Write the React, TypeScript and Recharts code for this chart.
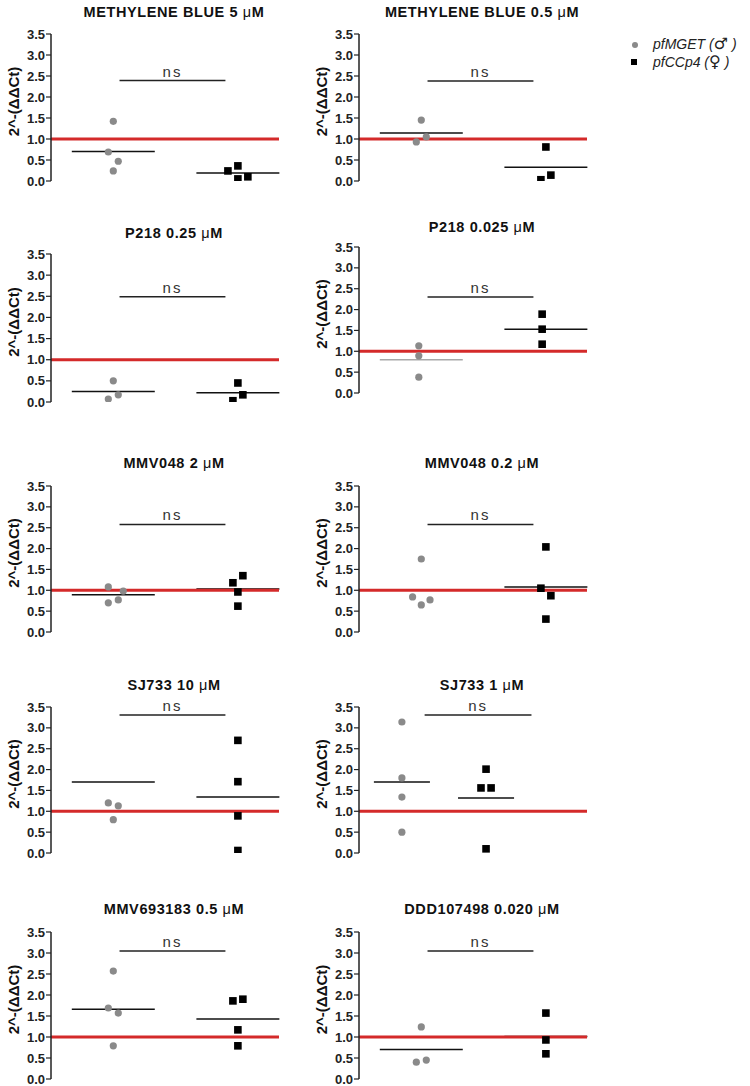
import React from 'react';
import { ScatterChart, Scatter, XAxis, YAxis, ReferenceLine, Label } from 'recharts';

const titles = [
  'METHYLENE BLUE 5',
  'METHYLENE BLUE 0.5',
  'P218 0.25',
  'P218 0.025',
  'MMV048 2',
  'MMV048 0.2',
  'SJ733 10',
  'SJ733 1',
  'MMV693183 0.5',
  'DDD107498 0.020',
];
const unitLabel = 'M';
const yTicks = [0, 0.5, 1, 1.5, 2, 2.5, 3, 3.5];
const yLabel = '2^-(ΔΔCt)';
const nsText = 'ns';
const baseline = 1;

const maleValues = [
  [1.42, 0.69, 0.47, 0.24],
  [1.45, 0.93, 1.05],
  [0.5, 0.07, 0.17],
  [1.13, 0.89, 0.38],
  [1.08, 0.98, 0.77, 0.7],
  [1.75, 0.84, 0.65, 0.77],
  [1.2, 1.13, 0.8],
  [3.14, 1.8, 1.34, 0.5],
  [2.57, 1.69, 1.57, 0.79],
  [1.24, 0.4, 0.45],
];
const maleX = [
  [1.0, 0.96, 1.04, 1.0],
  [1.0, 0.96, 1.04],
  [1.0, 0.96, 1.04],
  [0.98, 0.98, 0.98],
  [0.96, 1.08, 1.04, 0.96],
  [1.0, 0.93, 1.0, 1.07],
  [0.96, 1.04, 1.0],
  [1.0, 1.0, 1.0, 1.0],
  [1.0, 0.96, 1.04, 1.0],
  [1.0, 0.96, 1.04],
];
const femaleValues = [
  [0.24, 0.36, 0.05, 0.1],
  [0.81, 0.03, 0.14],
  [0.45, 0.03, 0.17],
  [1.89, 1.53, 1.17],
  [1.18, 1.35, 0.96, 0.62],
  [2.04, 1.05, 0.87, 0.31],
  [2.7, 1.71, 0.89, 0.06],
  [2.01, 1.56, 1.56, 0.1],
  [1.86, 1.9, 1.17, 0.79],
  [1.57, 0.93, 0.6],
];
const femaleX = [
  [1.92, 2.0, 2.0, 2.08],
  [2.0, 1.96, 2.04],
  [2.0, 1.96, 2.04],
  [1.97, 1.97, 1.97],
  [1.96, 2.04, 2.0, 2.0],
  [2.0, 1.96, 2.04, 2.0],
  [2.0, 2.0, 2.0, 2.0],
  [2.0, 1.94, 2.06, 2.0],
  [1.96, 2.04, 2.0, 2.0],
  [2.0, 2.0, 2.0],
];
const maleMeans = [0.7, 1.14, 0.25, 0.8, 0.89, 1.0, 1.7, 1.7, 1.66, 0.7];
const femaleMeans = [0.19, 0.33, 0.22, 1.53, 1.03, 1.08, 1.34, 1.32, 1.43, 1.01];
const nsLevels = [2.39, 2.38, 2.49, 2.3, 2.58, 2.58, 3.31, 3.31, 3.05, 3.05];

// layout (page pixel geometry) per panel
const layout = [
  { ax: 51, top: 34, bottom: 181, titleY: 12 },
  { ax: 359, top: 34, bottom: 181, titleY: 12 },
  { ax: 51, top: 254, bottom: 402, titleY: 233 },
  { ax: 359, top: 247, bottom: 393, titleY: 227 },
  { ax: 51, top: 486, bottom: 632, titleY: 463 },
  { ax: 359, top: 486, bottom: 632, titleY: 463 },
  { ax: 51, top: 707, bottom: 853, titleY: 685 },
  { ax: 359, top: 707, bottom: 853, titleY: 685 },
  { ax: 51, top: 932, bottom: 1079, titleY: 909 },
  { ax: 359, top: 932, bottom: 1079, titleY: 909 },
];
const defaultDomain: [number, number] = [0.5, 2.33];
const wideDomain: [number, number] = [0.49, 3.2];
const nsSpanDefault: [number, number] = [1.05, 1.9];
const nsSpanWide: [number, number] = [1.27, 2.54];
const meanHalf = 0.333;

const FONT = '"Liberation Sans", Arial, Helvetica, sans-serif';
const PLOT_W = 228;
const AXIS_W = 51;
const TOP_PAD = 34;

const CircleShape = (props: any) => (
  <circle cx={props.cx} cy={props.cy} r={3.6} fill="#8a8a8a" />
);
const SquareShape = (props: any) => (
  <rect x={props.cx - 3.8} y={props.cy - 3.8} width={7.6} height={7.6} fill="#000" />
);

function Panel({ i }: { i: number }) {
  const L = layout[i];
  const ph = L.bottom - L.top;
  const W = AXIS_W + PLOT_W + 11;
  const H = TOP_PAD + ph + 10;
  const domain = i === 7 ? wideDomain : defaultDomain;
  const nsSpan = i === 7 ? nsSpanWide : nsSpanDefault;
  const male = maleValues[i].map((y, k) => ({ x: maleX[i][k], y }));
  const female = femaleValues[i].map((y, k) => ({ x: femaleX[i][k], y }));
  const maleMeanColor = i === 3 ? '#a8a8a8' : '#111';
  const femaleMeanColor = i === 4 ? '#444' : '#111';
  return (
    <div style={{ position: 'absolute', left: L.ax - AXIS_W, top: L.top - TOP_PAD }}>
      <ScatterChart width={W} height={H} margin={{ top: TOP_PAD, right: 11, bottom: 10, left: 0 }}>
        <XAxis type="number" dataKey="x" domain={domain} hide allowDataOverflow />
        <YAxis
          type="number"
          dataKey="y"
          domain={[0, 3.5]}
          ticks={yTicks}
          width={AXIS_W}
          interval={0}
          tickFormatter={(v: number) => v.toFixed(1)}
          tick={{ fill: '#222', fontSize: 13, fontWeight: 'bold', fontFamily: FONT }}
          tickSize={5}
          tickMargin={1}
          axisLine={{ stroke: '#222', strokeWidth: 1.5 }}
          tickLine={{ stroke: '#222', strokeWidth: 1.2 }}
          allowDataOverflow
        >
          <Label
            value={yLabel}
            angle={-90}
            position="insideLeft"
            offset={14}
            dy={-6}
            style={{ textAnchor: 'middle', fontSize: 15, fontWeight: 'bold', fontFamily: FONT, fill: '#111' }}
          />
        </YAxis>
        <ReferenceLine
          segment={[{ x: 1 - meanHalf, y: maleMeans[i] }, { x: 1 + meanHalf, y: maleMeans[i] }]}
          stroke={maleMeanColor}
          strokeWidth={1.5}
          ifOverflow="visible"
        />
        <ReferenceLine
          segment={[{ x: 2 - meanHalf, y: femaleMeans[i] }, { x: 2 + meanHalf, y: femaleMeans[i] }]}
          stroke={femaleMeanColor}
          strokeWidth={i === 4 ? 2 : 1.5}
          ifOverflow="visible"
        />
        <ReferenceLine y={baseline} stroke="#d42a2a" strokeWidth={3} />
        <ReferenceLine
          segment={[{ x: nsSpan[0], y: nsLevels[i] }, { x: nsSpan[1], y: nsLevels[i] }]}
          stroke="#222"
          strokeWidth={1.5}
          ifOverflow="visible"
        >
          <Label
            value={nsText}
            position="top"
            offset={4}
            style={{ fontSize: 15, fontFamily: FONT, fill: '#333', letterSpacing: 2 }}
          />
        </ReferenceLine>
        <Scatter data={male} shape={CircleShape} isAnimationActive={false} />
        <Scatter data={female} shape={SquareShape} isAnimationActive={false} />
      </ScatterChart>
    </div>
  );
}

function Title({ i }: { i: number }) {
  const L = layout[i];
  return (
    <div
      style={{
        position: 'absolute',
        left: L.ax + 123 - 150,
        width: 300,
        top: L.titleY - 9,
        height: 18,
        lineHeight: '18px',
        textAlign: 'center',
        fontFamily: FONT,
        fontWeight: 'bold',
        fontSize: 14.5,
        letterSpacing: 0.6,
        color: '#111',
        whiteSpace: 'nowrap',
      }}
    >
      {titles[i]} <span style={{ fontWeight: 'normal' }}>μ</span>
      {unitLabel}
    </div>
  );
}

function Legend() {
  const text: React.CSSProperties = {
    position: 'absolute',
    left: 653,
    fontFamily: FONT,
    fontStyle: 'italic',
    fontSize: 14,
    color: '#222',
    whiteSpace: 'nowrap',
    height: 17,
    lineHeight: '17px',
  };
  const sym: React.CSSProperties = {
    fontStyle: 'normal',
    fontWeight: 'bold',
    fontSize: 16,
    fontFamily: '"DejaVu Sans", sans-serif',
    lineHeight: '14px',
  };
  return (
    <>
      <div style={{ position: 'absolute', left: 632, top: 42, width: 6, height: 6, borderRadius: 3, background: '#8a8a8a' }} />
      <div style={{ ...text, top: 36 }}>
        pfMGET (<span style={sym}>♂</span> )
      </div>
      <div style={{ position: 'absolute', left: 631, top: 59, width: 6, height: 6, background: '#000' }} />
      <div style={{ ...text, top: 54 }}>
        pfCCp4 (<span style={sym}>♀</span> )
      </div>
    </>
  );
}

export default function App() {
  return (
    <div style={{ position: 'absolute', left: 0, top: 0, width: 750, height: 1086, background: '#fff' }}>
      {layout.map((_, i) => (
        <Panel key={'p' + i} i={i} />
      ))}
      {layout.map((_, i) => (
        <Title key={'t' + i} i={i} />
      ))}
      <Legend />
    </div>
  );
}
